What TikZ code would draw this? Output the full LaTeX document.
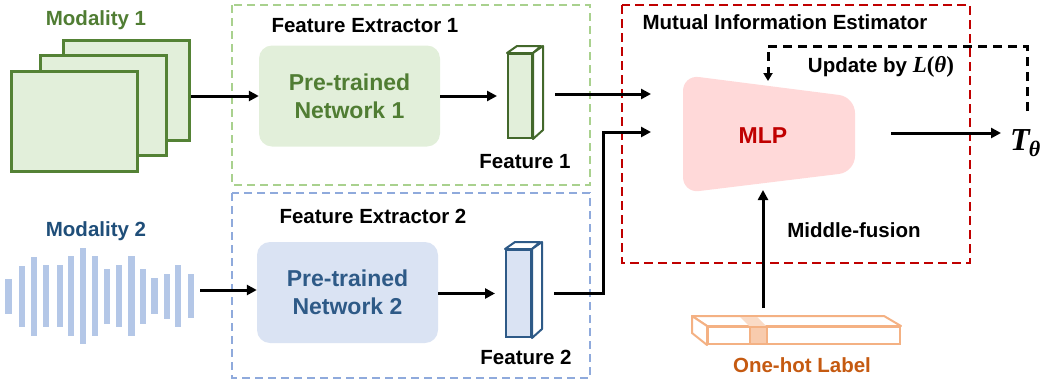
\documentclass[tikz,border=0pt]{standalone}
\usepackage{fontspec}
\setmainfont{Liberation Sans}
\newfontfamily\mserif{Liberation Serif}
\usetikzlibrary{arrows.meta,calc}
\definecolor{gstroke}{HTML}{548235}
\definecolor{gfill}{HTML}{E2EFDA}
\definecolor{gtext}{HTML}{507D33}
\definecolor{gdark}{HTML}{43682B}
\definecolor{gdash}{HTML}{A9D18E}
\definecolor{btext}{HTML}{1F4E79}
\definecolor{bptext}{HTML}{2E5A87}
\definecolor{bfill}{HTML}{DAE3F3}
\definecolor{bdark}{HTML}{2E5A87}
\definecolor{bdash}{HTML}{8FAADC}
\definecolor{bbar}{HTML}{B4C7E7}
\definecolor{rdash}{HTML}{C00000}
\definecolor{mlpfill}{HTML}{FFD9D9}
\definecolor{ostroke}{HTML}{F4B183}
\definecolor{ofill}{HTML}{F8CBAD}
\definecolor{otext}{HTML}{C55A11}
\newcommand{\bi}[1]{{\mserif\bfseries\itshape #1}}
\newcommand{\bu}[1]{{\mserif\bfseries #1}}
\tikzset{
  lbl/.style={font=\fontsize{20.5}{24}\selectfont\bfseries, inner sep=0pt},
  ptn/.style={rounded corners=13pt, draw=none, minimum width=181pt, minimum height=101pt,
     align=center, font=\fontsize{23}{28}\selectfont\bfseries},
  modbox/.style={draw=gstroke, fill=gfill, line width=3pt, minimum width=126pt, minimum height=100pt, inner sep=0pt},
  arr/.style={line width=3pt, -{Triangle[length=10pt,width=10pt]}},
  fbox/.style={line width=2pt, inner sep=0pt},
  xdash/.style={line width=2pt, dash pattern=on 8pt off 5pt},
  fb/.style={line width=3pt, dash pattern=on 9pt off 6pt, -{Triangle[length=8pt,width=9pt]}},
}
\begin{document}
\begin{tikzpicture}[x=1pt,y=-1pt]
\useasboundingbox (0,0) rectangle (1045,381);

% dashed frames
\draw[xdash, draw=gdash] (232,5) rectangle (590,185);
\draw[xdash, draw=bdash] (232,193) rectangle (590,378);
\draw[line width=2.2pt, draw=rdash, dash pattern=on 9pt off 5pt] (622,5) rectangle (970,263);

% Modality 1
\node[lbl, text=gtext] (m1lbl) at (96,20) {Modality 1};
\node[modbox] (m1back) at (126.5,90) {};
\node[modbox] (m1mid) at (103,105.5) {};
\node[modbox] (m1front) at (74.5,121.5) {};

% Modality 2 waveform
\node[lbl, text=btext] (m2lbl) at (96,231) {Modality 2};
\foreach \x/\t/\b in {8.5/279/314, 22/266/327, 34/257/336, 46/265/327, 60/265/327,
  71/256/336, 83/248/344, 95/256/336, 107/269/324, 119/265/327, 131.5/256/336,
  143/269/324, 154.5/278/314, 167/274/319, 178/265/327, 191/274/318}
  \fill[bbar] (\x-3.2,\t) rectangle (\x+3.2,\b);
\coordinate (w2) at (200,290);

% Feature extractors
\node[lbl] (fe1) at (365,26) {Feature Extractor 1};
\node[lbl] (fe2) at (373,216) {Feature Extractor 2};
\node[ptn, fill=gfill, text=gtext] (ptn1) at (349.5,96) {Pre-trained\\Network 1};
\node[ptn, fill=bfill, text=bptext] (ptn2) at (347.5,292.5) {Pre-trained\\Network 2};

% Feature 1 cuboid
\node[fbox, draw=gdark, fill=gfill, minimum width=24pt, minimum height=84pt] (f1) at (520,96) {};
\draw[fbox, draw=gdark, fill=white, line join=round] (f1.north west) -- ++(10,-7) -- ++(24,0) -- (f1.north east) -- cycle;
\draw[fbox, draw=gdark, fill=white, line join=round] (f1.north east) -- ++(10,-7) -- ++(0,84) -- (f1.south east) -- cycle;
\node[lbl] (f1lbl) at (525,162) {Feature 1};

% Feature 2 cuboid
\node[fbox, draw=bdark, fill=bfill, minimum width=25pt, minimum height=87pt] (f2) at (518.5,293.5) {};
\draw[fbox, draw=bdark, fill=white, line join=round] (f2.north west) -- ++(10,-7) -- ++(25,0) -- (f2.north east) -- cycle;
\draw[fbox, draw=bdark, fill=white, line join=round] (f2.north east) -- ++(10,-7) -- ++(0,87) -- (f2.south east) -- cycle;
\node[lbl] (f2lbl) at (526,357) {Feature 2};

% Mutual information estimator
\node[lbl] (mie) at (785,22) {Mutual Information Estimator};
\fill[mlpfill, rounded corners=16pt] (683,75) -- (855,97) -- (855,172) -- (683,193) -- cycle;
\node[font=\fontsize{23}{27}\selectfont\bfseries, text=rdash] (mlp) at (763,136) {MLP};
\coordinate (in1) at (651,94);
\coordinate (in2) at (651,132);
\coordinate (mlpR) at (855,133);
\coordinate (mlpT) at (768,81);
\coordinate (mlpB) at (763,190);
\coordinate (fbtop) at (768,46);
\coordinate (fbstart) at (1027,111);
\node[inner sep=0pt, anchor=base west] (tout) at (1010,150)
  {\fontsize{32}{34}\selectfont\bi{T}\kern-1pt\raisebox{-6pt}{\fontsize{22}{23}\selectfont\bi{θ}}};
\node[lbl] (upd) at (881,67) {Update by {\fontsize{23}{24}\selectfont\bi{L}\bu{(}\bi{θ}\bu{)}}};
\node[lbl] (mf) at (854,230) {Middle-fusion};

% One-hot label
\node[fbox, draw=ostroke, fill=white, minimum width=192pt, minimum height=17pt] (oh) at (804,335.5) {};
\draw[fbox, draw=ostroke, fill=white, line join=round] (oh.north west) -- ++(-15,-10) -- ++(192,0) -- (oh.north east) -- cycle;
\draw[fbox, draw=ostroke, fill=white, line join=round] (oh.north west) -- ++(-15,-10) -- ++(0,17) -- (oh.south west) -- cycle;
\fill[ofill!70] (750,327) -- (740,317) -- (757,317) -- (767,327) -- cycle;
\draw[fbox, draw=ostroke, fill=ofill] (750,327) rectangle (767,344);
\node[lbl, text=otext] (ohlbl) at (802,365) {One-hot Label};
\coordinate (ohT) at (763,308);

% connectors
\draw[arr] (m1back.east |- ptn1.west) -- (ptn1.west);
\draw[arr] (w2) -- (w2 -| ptn2.west);
\draw[arr] (ptn1.east |- f1.west) -- ([xshift=-10pt]f1.west);
\draw[arr] (ptn2.east |- f2.west) -- ([xshift=-10pt]f2.west);
\draw[arr] ([xshift=22pt]f1.east |- in1) -- (in1);
\draw[arr] ([xshift=22pt]f2.east) -| ($(in2)+(-48,0)$) -- (in2);
\draw[arr] ([xshift=36pt]mlpR) -- ([xshift=-9pt]mlpR -| tout.west);
\draw[fb] (fbstart) |- (fbtop) -- (mlpT);
\draw[arr] (ohT) -- (mlpB);
\end{tikzpicture}
\end{document}
